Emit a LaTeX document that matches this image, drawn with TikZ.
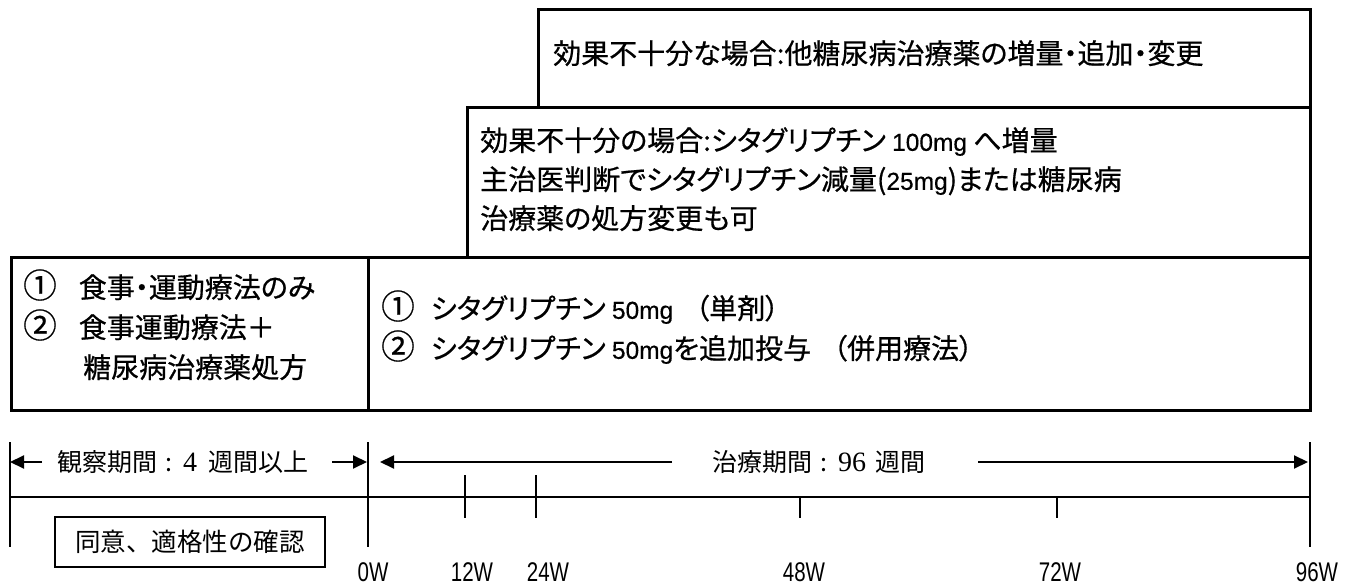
\documentclass[tikz,border=0pt]{standalone}
\usepackage{fontspec}
\setmainfont{Noto Sans CJK JP}[RawFeature=+palt, FakeBold=0.6]
\newfontfamily\jpm{Noto Sans CJK JP}
\newfontfamily\lat{Liberation Sans}[FakeBold=0.4]
\newfontfamily\latw{Liberation Sans}
\newfontfamily\ser{Liberation Serif}
\usetikzlibrary{arrows.meta}
\newcommand\nr[1]{{\lat\fontsize{24.5}{24.5}\selectfont #1}}
\newcommand\wk[1]{\scalebox{0.76}[1]{\latw\fontsize{27}{27}\selectfont #1}}
\newcommand\cn[1]{\scalebox{1.2}{#1}}
\newcommand\sd[1]{{\ser\fontsize{28}{28}\selectfont #1}}
\tikzset{
  box/.style={draw, line width=3pt, inner sep=0pt, outer sep=0pt, anchor=north west},
  jt/.style={inner sep=0pt, anchor=west, font=\fontsize{28}{28}\selectfont, text height=0.88em, text depth=0.12em},
  mt/.style={inner sep=0pt, anchor=west, font=\jpm\fontsize{25}{25}\selectfont, text height=0.88em, text depth=0.12em},
  wl/.style={inner sep=0pt, anchor=center},
  tl/.style={line width=1.5pt},
  arr/.style={line width=2pt, -{Triangle[length=14pt,width=13pt]}},
  cbox/.style={draw, line width=2pt, inner sep=0pt, minimum width=270pt, minimum height=50pt,
    font=\jpm\fontsize{25.5}{25.5}\selectfont},
}
\begin{document}
\begin{tikzpicture}[x=1pt,y=-1pt]
\useasboundingbox (0,0) rectangle (1352,585);
% boxes
\node[box, minimum width=772pt, minimum height=98pt] (topbox) at (538,10) {};
\node[box, minimum width=843pt, minimum height=150pt] (midbox) at (467,108) {};
\node[box, minimum width=1299pt, minimum height=152pt] (lowbox) at (11,258) {};
\coordinate (dv) at (368,258);
\draw[line width=3pt] (dv) -- (dv |- lowbox.south);
% texts in boxes
\node[jt] (t1) at (553,60) {効果不十分な場合:他糖尿病治療薬の増量・追加・変更};
\node[jt] (m1) at (480,147) {効果不十分の場合:シタグリプチン \nr{100mg} へ増量};
\node[jt] (m2) at (480,186) {主治医判断でシタグリプチン減量(\nr{25mg})または糖尿病};
\node[jt] (m3) at (480,225) {治療薬の処方変更も可};
\node[jt] (l1) at (23,294) {\cn{①}\hspace{22pt}食事・運動療法のみ};
\node[jt] (l2) at (23,334) {\cn{②}\hspace{22pt}食事運動療法＋};
\node[jt] (l3) at (83,374) {糖尿病治療薬処方};
\node[jt] (r1) at (381,315) {\cn{①}\hspace{16pt}シタグリプチン \nr{50mg}\hspace{22pt}（単剤）};
\node[jt] (r2) at (381,355) {\cn{②}\hspace{16pt}シタグリプチン \nr{50mg}を追加投与\hspace{22pt}（併用療法）};
% timeline verticals
\coordinate (v0a) at (10,442);  \coordinate (v0b) at (10,547);
\coordinate (v1a) at (368,442); \coordinate (v1b) at (368,547);
\coordinate (v2a) at (1310,442); \coordinate (v2b) at (1310,547);
\draw[tl] (v0a) -- (v0b);
\draw[tl] (v1a) -- (v1b);
\draw[tl] (v2a) -- (v2b);
% axis
\coordinate (ax0) at (10,497); \coordinate (ax1) at (1310,497);
\draw[tl] (ax0) -- (ax1);
% ticks
\coordinate (k12a) at (465,475); \coordinate (k12b) at (465,518);
\coordinate (k24a) at (536,475); \coordinate (k24b) at (536,518);
\coordinate (k48a) at (800,497); \coordinate (k48b) at (800,518);
\coordinate (k72a) at (1057,497); \coordinate (k72b) at (1057,518);
\draw[tl] (k12a) -- (k12b);
\draw[tl] (k24a) -- (k24b);
\draw[tl] (k48a) -- (k48b);
\draw[tl] (k72a) -- (k72b);
% arrows
\coordinate (oa0) at (42,462);  \coordinate (oa1) at (10,462);
\coordinate (ob0) at (332,462); \coordinate (ob1) at (367,462);
\coordinate (ta0) at (672,462); \coordinate (ta1) at (380,462);
\coordinate (tb0) at (978,462); \coordinate (tb1) at (1308,462);
\draw[arr] (oa0) -- (oa1);
\draw[arr] (ob0) -- (ob1);
\draw[arr] (ta0) -- (ta1);
\draw[arr] (tb0) -- (tb1);
% period labels
\node[mt] (obs) at (57,468) {観察期間\hspace{8pt}:\hspace{11pt}\sd{4}\hspace{11pt}週間以上};
\node[mt] (trt) at (712,468) {治療期間\hspace{8pt}:\hspace{11pt}\sd{96}\hspace{9pt}週間};
% consent box
\node[cbox] (cons) at (190,542) {同意、適格性の確認};
% week labels
\node[wl] (w0) at (373,572) {\wk{0W}};
\node[wl] (w12) at (472,572) {\wk{12W}};
\node[wl] (w24) at (548,572) {\wk{24W}};
\node[wl] (w48) at (804,572) {\wk{48W}};
\node[wl] (w72) at (1060,572) {\wk{72W}};
\node[wl] (w96) at (1317,572) {\wk{96W}};
\end{tikzpicture}
\end{document}
